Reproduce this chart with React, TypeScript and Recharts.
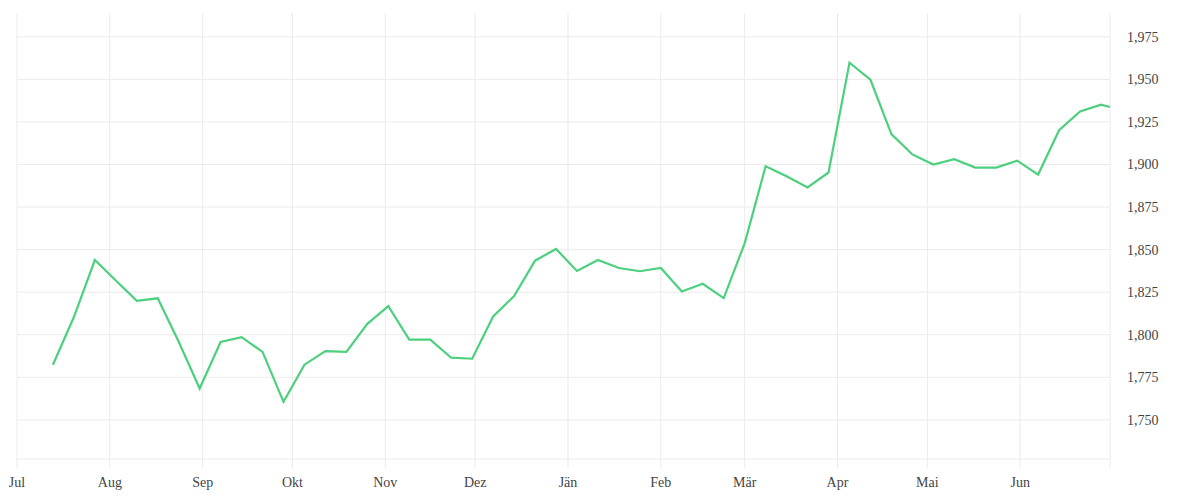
import React from 'react';
import { LineChart, Line, XAxis, YAxis, CartesianGrid, ReferenceLine } from 'recharts';

// weekly closing values, x = days since 1 Jul
const days = [
  12, 19, 26, 33, 40, 47, 54, 61, 68, 75, 82, 89, 96, 103, 110, 117, 124, 131, 138, 145,
  152, 159, 166, 173, 180, 187, 194, 201, 208, 215, 222, 229, 236, 243, 250, 257, 264, 271,
  278, 285, 292, 299, 306, 313, 320, 327, 334, 341, 348, 355, 362, 365,
];

const values = [
  1782.4, 1810.4, 1843.9, 1831.9, 1819.9, 1821.4, 1795.9, 1768.4, 1795.7, 1798.6, 1789.9,
  1760.6, 1782.4, 1790.4, 1789.9, 1806.4, 1816.8, 1797.1, 1797.1, 1786.5, 1785.9, 1810.7,
  1822.7, 1843.5, 1850.4, 1837.5, 1843.9, 1839.2, 1837.3, 1839.2, 1825.4, 1829.9, 1821.5,
  1853.7, 1899.0, 1893.1, 1886.5, 1895.3, 1959.8, 1949.8, 1917.9, 1905.9, 1900.0, 1903.1,
  1898.2, 1898.2, 1902.3, 1894.1, 1920.1, 1931.2, 1935.2, 1933.8,
];

// month starts (days since 1 Jul) and their labels
const monthTicks = [0, 31, 62, 92, 123, 153, 184, 215, 243, 274, 304, 335, 365];
const monthLabels = ['Jul', 'Aug', 'Sep', 'Okt', 'Nov', 'Dez', 'Jän', 'Feb', 'Mär', 'Apr', 'Mai', 'Jun', ''];

const yTicks = [1750, 1775, 1800, 1825, 1850, 1875, 1900, 1925, 1950, 1975];

const data = days.map((d, i) => ({ day: d, value: values[i] }));

const GRID = '#ebebeb';
const tickStyle = { fontSize: 14, fill: '#444', fontFamily: '"Liberation Serif", serif' };

export default function App() {
  return (
    <LineChart
      width={1184}
      height={484}
      data={data}
      margin={{ top: 5, right: 0, left: 9, bottom: 0 }}
    >
      {/* vertical lines only; horizontal ones drawn per tick below */}
      <CartesianGrid stroke={GRID} strokeWidth={1} horizontal={false} />
      {yTicks.map((t) => (
        <ReferenceLine key={t} y={t} stroke={GRID} strokeWidth={1} />
      ))}
      <XAxis
        dataKey="day"
        type="number"
        domain={[0, 365]}
        ticks={monthTicks}
        interval={0}
        tickFormatter={(v: number) => monthLabels[monthTicks.indexOf(v)] ?? ''}
        axisLine={{ stroke: GRID }}
        tickLine={{ stroke: GRID }}
        tickSize={9}
        tickMargin={9}
        height={33}
        tick={tickStyle}
      />
      <YAxis
        orientation="right"
        type="number"
        domain={[1727, 1989]}
        ticks={yTicks}
        interval={0}
        allowDataOverflow
        axisLine={false}
        tickLine={false}
        tickSize={0}
        tickMargin={17}
        width={82}
        tick={{ ...tickStyle, textAnchor: 'start' }}
        tickFormatter={(v: number) => v.toLocaleString('en-US')}
      />
      <Line
        type="linear"
        dataKey="value"
        stroke="#4cd07d"
        strokeWidth={2.2}
        dot={false}
        isAnimationActive={false}
      />
    </LineChart>
  );
}
